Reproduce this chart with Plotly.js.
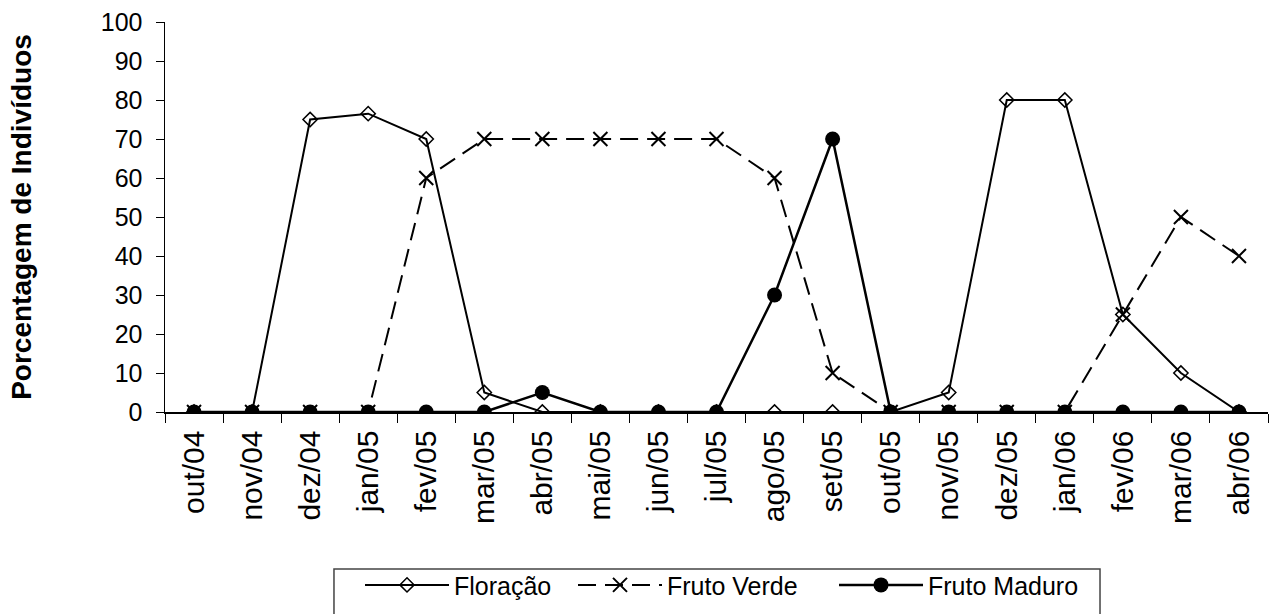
<!DOCTYPE html>
<html>
<head>
<meta charset="utf-8">
<script src="https://cdn.plot.ly/plotly-3.0.1.min.js"></script>
<style>html,body{margin:0;padding:0;background:#fff;}#chart{width:1271px;height:614px;}</style>
</head>
<body>
<div id="chart"></div>
<script>
const months = ["out/04","nov/04","dez/04","jan/05","fev/05","mar/05","abr/05","mai/05","jun/05","jul/05","ago/05","set/05","out/05","nov/05","dez/05","jan/06","fev/06","mar/06","abr/06"];
const floracao = [0,0,75,76.5,70,5,0,0,0,0,0,0,0,5,80,80,25,10,0];
const frutoVerde = [0,0,0,0,60,70,70,70,70,70,60,10,0,0,0,0,25,50,40];
const frutoMaduro = [0,0,0,0,0,0,5,0,0,0,30,70,0,0,0,0,0,0,0];
const yTicks = [0,10,20,30,40,50,60,70,80,90,100];

const FONT = "Liberation Sans, Arial, sans-serif";

const traces = [
  {x: months, y: floracao, name: "Floração", type: "scatter", mode: "lines+markers",
   legendwidth: 114,
   line: {color: "#000", width: 2},
   marker: {symbol: "diamond-open", size: 11, color: "#000", line: {width: 1.5, color: "#000"}}},
  {x: months, y: frutoVerde, name: "Fruto Verde", type: "scatter", mode: "lines+markers",
   legendwidth: 162,
   line: {color: "#000", width: 2, dash: "18px,9px"},
   marker: {symbol: "x-thin-open", size: 14, color: "#000", line: {width: 2, color: "#000"}}},
  {x: months, y: frutoMaduro, name: "Fruto Maduro", type: "scatter", mode: "lines+markers",
   legendwidth: 158,
   line: {color: "#000", width: 2.5},
   marker: {symbol: "circle", size: 15, color: "#000"}}
];

const layout = {
  width: 1271, height: 614,
  margin: {l: 165, r: 3, t: 22, b: 202, autoexpand: false},
  paper_bgcolor: "#fff", plot_bgcolor: "#fff",
  font: {family: FONT, color: "#000"},
  showlegend: true,
  xaxis: {
    type: "category", categoryarray: months, range: [-0.5, 18.5],
    showgrid: false, zeroline: false, showline: true, linecolor: "#000", linewidth: 1.5,
    ticks: "outside", tickson: "boundaries", ticklen: 9, tickcolor: "#000", tickwidth: 1,
    tickangle: -90, tickfont: {size: 30, color: "#000"}, ticklabelstandoff: 5
  },
  yaxis: {
    range: [0, 100], tickvals: yTicks, ticktext: yTicks.map(String),
    showgrid: false, zeroline: false, showline: true, linecolor: "#000", linewidth: 1.5,
    ticks: "outside", ticklen: 8, tickcolor: "#000", tickwidth: 1,
    tickfont: {size: 25, color: "#000"}, ticklabelstandoff: 8,
    title: {text: "Porcentagem de Indivíduos", font: {size: 28, color: "#000", family: FONT, weight: "bold"}, standoff: 61}
  },
  legend: {
    orientation: "h", x: 0.1768, xanchor: "left", y: -0.385, yanchor: "top",
    borderwidth: 0, bgcolor: "rgba(0,0,0,0)",
    font: {size: 25, color: "#000"}, itemwidth: 84, tracegroupgap: 0,
    entrywidthmode: "pixels"
  },
  shapes: [
    {type: "rect", xref: "paper", yref: "paper", x0: 0.1532, x1: 0.8477, y0: -0.4026, y1: -0.53,
     line: {color: "#444", width: 1.5}, fillcolor: "rgba(0,0,0,0)", layer: "below"}
  ]
};

Plotly.newPlot("chart", traces, layout, {displayModeBar: false, staticPlot: true});
</script>
</body>
</html>
